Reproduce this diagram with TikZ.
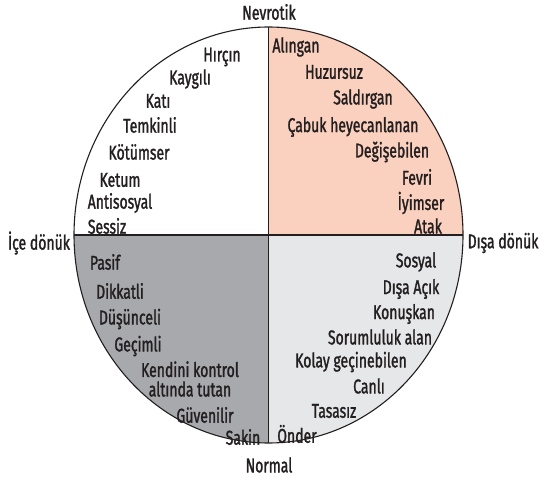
\documentclass[tikz,border=0pt]{standalone}
\usepackage{fontspec}
\setmainfont{Fira Sans}[FakeStretch=0.70,FakeBold=1.4]
\definecolor{pinkq}{HTML}{FAD0BE}
\definecolor{lgrey}{HTML}{E6E7E8}
\definecolor{dgrey}{HTML}{A7A9AC}
\definecolor{ink}{HTML}{231F20}
\begin{document}
\begin{tikzpicture}[x=1pt,y=-1pt,
  lbl/.style={font=\fontsize{20}{19.5}\selectfont, inner sep=0pt, text=ink, align=center},
  edge/.style={line width=1.1pt, draw=ink}]
\useasboundingbox (0,0) rectangle (541,478);
\coordinate (C) at (268.5,235);
\coordinate (T) at (268.5,27);
\coordinate (B) at (268.5,443);
\coordinate (L) at (74,235);
\coordinate (R) at (463,235);
\begin{scope}
\clip (C) ellipse [x radius=194.5pt, y radius=208pt];
\fill[pinkq] (C) rectangle ++(250,-250);
\fill[lgrey] (C) rectangle ++(250,250);
\fill[dgrey] (C) rectangle ++(-250,250);
\end{scope}
\draw[edge] (C) ellipse [x radius=194.5pt, y radius=208pt];
\draw[edge] (T) -- (B);
\draw[edge] (L) -- (R);
% axis labels
\node[lbl] (nev) at (269,12) {Nevrotik};
\node[lbl] (ice) at (39,243) {İçe dönük};
\node[lbl] (disa) at (503,243) {Dışa dönük};
\node[lbl] (nor) at (269,465) {Normal};
% upper left
\node[lbl] (a1) at (222,57) {Hırçın};
\node[lbl] (a2) at (190,79) {Kaygılı};
\node[lbl] (a3) at (158,101) {Katı};
\node[lbl] (a4) at (150,125) {Temkinli};
\node[lbl] (a5) at (139,152) {Kötümser};
\node[lbl] (a6) at (120,180) {Ketum};
\node[lbl] (a7) at (120,203) {Antisosyal};
\node[lbl] (a8) at (107,226) {Sessiz};
% upper right
\node[lbl] (b1) at (296,47) {Alıngan};
\node[lbl] (b2) at (334,72) {Huzursuz};
\node[lbl] (b3) at (363,99) {Saldırgan};
\node[lbl] (b4) at (353,127) {Çabuk heyecanlanan};
\node[lbl] (b5) at (392,152) {Değişebilen};
\node[lbl] (b6) at (417,177) {Fevri};
\node[lbl] (b7) at (421,203) {İyimser};
\node[lbl] (b8) at (428,226) {Atak};
% lower left
\node[lbl] (c1) at (105,262) {Pasif};
\node[lbl] (c2) at (120,291) {Dikkatli};
\node[lbl] (c3) at (130,319) {Düşünceli};
\node[lbl] (c4) at (138,346) {Geçimli};
\node[lbl] (c5) at (190,379) {Kendini kontrol\\altında tutan};
\node[lbl] (c6) at (205,415) {Güvenilir};
\node[lbl] (c7) at (243,437) {Sakin};
% lower right
\node[lbl] (d1) at (416,262) {Sosyal};
\node[lbl] (d2) at (411,289) {Dışa Açık};
\node[lbl] (d3) at (404,314) {Konuşkan};
\node[lbl] (d4) at (380,337) {Sorumluluk alan};
\node[lbl] (d5) at (351,362) {Kolay geçinebilen};
\node[lbl] (d6) at (369,386) {Canlı};
\node[lbl] (d7) at (334,411) {Tasasız};
\node[lbl] (d8) at (297,434) {Önder};
\end{tikzpicture}
\end{document}
